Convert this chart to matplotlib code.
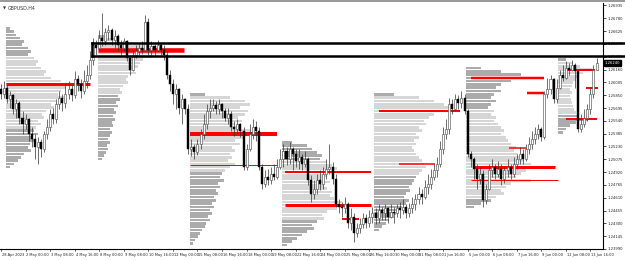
import numpy as np
import matplotlib
matplotlib.use("Agg")
import matplotlib.pyplot as plt
from matplotlib.patches import Rectangle
from matplotlib.transforms import blended_transform_factory

symbol = "GBPUSD,H4"

# H4 candles, bar 0 = 28 Apr 2023 16:00
first_open = 1.2592
closes = [
    1.2586, 1.2594, 1.2580, 1.2585, 1.2568, 1.2575, 1.2558, 1.2550, 1.2556, 1.2538,
    1.2532, 1.2522, 1.2528, 1.2520, 1.2538, 1.2546, 1.2562, 1.2556, 1.2574, 1.2582,
    1.2575, 1.2586, 1.2592, 1.2585, 1.2604, 1.2598, 1.2590, 1.2602, 1.2610, 1.2628,
    1.2646, 1.2642, 1.2654, 1.2650, 1.2662, 1.2664, 1.2652, 1.2657, 1.2646, 1.2642,
    1.2650, 1.2630, 1.2616, 1.2634, 1.2638, 1.2642, 1.2640, 1.2674, 1.2640, 1.2645,
    1.2640, 1.2646, 1.2640, 1.2634, 1.2610, 1.2598, 1.2586, 1.2592, 1.2570, 1.2580,
    1.2568, 1.2520, 1.2522, 1.2516, 1.2526, 1.2538, 1.2550, 1.2566, 1.2570, 1.2573,
    1.2568, 1.2574, 1.2566, 1.2558, 1.2562, 1.2546, 1.2544, 1.2550, 1.2542, 1.2498,
    1.2520, 1.2538, 1.2546, 1.2542, 1.2498, 1.2478, 1.2486, 1.2482, 1.2490, 1.2486,
    1.2498, 1.2508, 1.2518, 1.2508, 1.2520, 1.2514, 1.2506, 1.2510, 1.2502, 1.2508,
    1.2482, 1.2466, 1.2472, 1.2482, 1.2478, 1.2490, 1.2496, 1.2498, 1.2484, 1.2454,
    1.2450, 1.2448, 1.2454, 1.2430, 1.2438, 1.2418, 1.2424, 1.2429, 1.2436, 1.2431,
    1.2438, 1.2442, 1.2436, 1.2446, 1.2442, 1.2448, 1.2438, 1.2444, 1.2442, 1.2448,
    1.2446, 1.2450, 1.2443, 1.2448, 1.2454, 1.2460, 1.2466, 1.2462, 1.2474, 1.2478,
    1.2486, 1.2494, 1.2502, 1.2520, 1.2538, 1.2544, 1.2574, 1.2568, 1.2580, 1.2575,
    1.2582, 1.2566, 1.2514, 1.2508, 1.2496, 1.2484, 1.2490, 1.2458, 1.2472, 1.2494,
    1.2498, 1.2490, 1.2496, 1.2484, 1.2494, 1.2498, 1.2490, 1.2502, 1.2508, 1.2514,
    1.2508, 1.2520, 1.2526, 1.2532, 1.2538, 1.2544, 1.2534, 1.2586, 1.2592, 1.2604,
    1.2580, 1.2594, 1.2610, 1.2606, 1.2618, 1.2616, 1.2622, 1.2614, 1.2544, 1.2550,
    1.2558, 1.2568, 1.2586, 1.2616, 1.2624,
]
highs = [
    1.2598, 1.2602, 1.2597, 1.2590, 1.2587, 1.2580, 1.2578, 1.2566, 1.2562, 1.2558,
    1.2546, 1.2538, 1.2534, 1.2532, 1.2542, 1.2556, 1.2568, 1.2570, 1.2580, 1.2590,
    1.2586, 1.2598, 1.2602, 1.2597, 1.2614, 1.2610, 1.2604, 1.2616, 1.2622, 1.2638,
    1.2654, 1.2652, 1.2664, 1.2684, 1.2666, 1.2670, 1.2666, 1.2664, 1.2659, 1.2652,
    1.2654, 1.2652, 1.2634, 1.2640, 1.2646, 1.2647, 1.2650, 1.2682, 1.2678, 1.2650,
    1.2647, 1.2652, 1.2648, 1.2646, 1.2638, 1.2616, 1.2604, 1.2598, 1.2594, 1.2586,
    1.2582, 1.2574, 1.2532, 1.2526, 1.2532, 1.2544, 1.2562, 1.2574, 1.2580, 1.2580,
    1.2578, 1.2580, 1.2575, 1.2570, 1.2570, 1.2566, 1.2554, 1.2556, 1.2551, 1.2546,
    1.2526, 1.2550, 1.2556, 1.2554, 1.2546, 1.2502, 1.2494, 1.2496, 1.2498, 1.2502,
    1.2508, 1.2520, 1.2526, 1.2522, 1.2528, 1.2522, 1.2520, 1.2520, 1.2514, 1.2518,
    1.2510, 1.2489, 1.2482, 1.2490, 1.2494, 1.2498, 1.2508, 1.2526, 1.2504, 1.2490,
    1.2460, 1.2456, 1.2462, 1.2456, 1.2448, 1.2442, 1.2430, 1.2436, 1.2442, 1.2441,
    1.2446, 1.2450, 1.2448, 1.2454, 1.2450, 1.2454, 1.2450, 1.2454, 1.2450, 1.2454,
    1.2456, 1.2460, 1.2454, 1.2455, 1.2462, 1.2466, 1.2474, 1.2472, 1.2482, 1.2490,
    1.2496, 1.2502, 1.2510, 1.2530, 1.2546, 1.2556, 1.2582, 1.2580, 1.2586, 1.2585,
    1.2590, 1.2586, 1.2568, 1.2518, 1.2510, 1.2502, 1.2498, 1.2494, 1.2478, 1.2502,
    1.2508, 1.2502, 1.2506, 1.2502, 1.2498, 1.2508, 1.2502, 1.2510, 1.2514, 1.2522,
    1.2520, 1.2526, 1.2534, 1.2542, 1.2546, 1.2550, 1.2546, 1.2590, 1.2606, 1.2610,
    1.2606, 1.2604, 1.2616, 1.2622, 1.2626, 1.2624, 1.2628, 1.2624, 1.2616, 1.2562,
    1.2568, 1.2574, 1.2594, 1.2622, 1.2630,
]
lows = [
    1.2580, 1.2582, 1.2575, 1.2570, 1.2562, 1.2558, 1.2550, 1.2538, 1.2544, 1.2530,
    1.2522, 1.2508, 1.2502, 1.2510, 1.2516, 1.2532, 1.2542, 1.2550, 1.2551, 1.2568,
    1.2566, 1.2570, 1.2580, 1.2578, 1.2582, 1.2590, 1.2582, 1.2586, 1.2594, 1.2604,
    1.2622, 1.2634, 1.2640, 1.2645, 1.2646, 1.2652, 1.2646, 1.2642, 1.2638, 1.2634,
    1.2638, 1.2626, 1.2610, 1.2614, 1.2630, 1.2634, 1.2635, 1.2638, 1.2634, 1.2634,
    1.2633, 1.2638, 1.2634, 1.2628, 1.2604, 1.2590, 1.2574, 1.2568, 1.2562, 1.2550,
    1.2562, 1.2514, 1.2512, 1.2508, 1.2513, 1.2520, 1.2532, 1.2544, 1.2558, 1.2566,
    1.2562, 1.2562, 1.2558, 1.2554, 1.2550, 1.2542, 1.2536, 1.2538, 1.2534, 1.2494,
    1.2494, 1.2518, 1.2532, 1.2530, 1.2494, 1.2472, 1.2474, 1.2477, 1.2478, 1.2482,
    1.2484, 1.2496, 1.2498, 1.2501, 1.2502, 1.2494, 1.2498, 1.2496, 1.2494, 1.2498,
    1.2477, 1.2456, 1.2460, 1.2466, 1.2470, 1.2472, 1.2484, 1.2490, 1.2478, 1.2450,
    1.2442, 1.2438, 1.2442, 1.2424, 1.2422, 1.2408, 1.2414, 1.2418, 1.2424, 1.2424,
    1.2426, 1.2430, 1.2429, 1.2430, 1.2434, 1.2434, 1.2431, 1.2436, 1.2430, 1.2438,
    1.2436, 1.2441, 1.2436, 1.2438, 1.2443, 1.2446, 1.2454, 1.2454, 1.2460, 1.2466,
    1.2472, 1.2482, 1.2486, 1.2498, 1.2514, 1.2532, 1.2538, 1.2562, 1.2566, 1.2568,
    1.2570, 1.2562, 1.2510, 1.2498, 1.2484, 1.2472, 1.2478, 1.2450, 1.2454, 1.2470,
    1.2486, 1.2484, 1.2486, 1.2477, 1.2479, 1.2486, 1.2484, 1.2486, 1.2496, 1.2502,
    1.2502, 1.2506, 1.2514, 1.2520, 1.2526, 1.2532, 1.2530, 1.2532, 1.2582, 1.2586,
    1.2575, 1.2576, 1.2592, 1.2602, 1.2604, 1.2609, 1.2614, 1.2594, 1.2540, 1.2540,
    1.2546, 1.2554, 1.2562, 1.2582, 1.2616,
]

time_labels = [
    "28 Apr 2023", "2 May 00:00", "3 May 08:00", "4 May 16:00", "8 May 00:00",
    "9 May 08:00", "10 May 16:00", "12 May 00:00", "15 May 08:00", "16 May 16:00",
    "18 May 00:00", "19 May 08:00", "22 May 16:00", "24 May 00:00", "25 May 08:00",
    "26 May 16:00", "30 May 00:00", "31 May 08:00", "1 Jun 16:00", "5 Jun 00:00",
    "6 Jun 08:00", "7 Jun 16:00", "9 Jun 00:00", "12 Jun 08:00", "13 Jun 16:00",
]
price_labels = [
    1.26935, 1.26780, 1.26625, 1.26470, 1.26315, 1.26160, 1.26005, 1.25850,
    1.25695, 1.25540, 1.25385, 1.25230, 1.25075, 1.24920, 1.24765, 1.24610,
    1.24455, 1.24300, 1.24145, 1.23990,
]

# weekly volume profiles: first bar of week, top price level, volume per level (top -> down)
week_start = [2, 32, 62, 92, 122, 152, 182]
profile_top = [1.2666, 1.2656, 1.2586, 1.2528, 1.2586, 1.2618, 1.2628]
level_step = 0.0004
vol_w1 = [4, 8, 10, 14, 18, 16, 22, 25, 22, 28, 32, 30, 35, 40, 38, 45, 55, 83, 60, 55, 52, 58,
          50, 45, 48, 40, 36, 38, 32, 35, 30, 28, 32, 26, 30, 24, 22, 25, 18, 15, 12, 8, 4]
vol_w2 = [8, 20, 35, 50, 85, 65, 55, 45, 42, 40, 35, 38, 30, 28, 30, 25, 22, 24, 20, 22, 18,
          20, 16, 18, 15, 17, 14, 15, 12, 14, 12, 10, 12, 9, 10, 8, 6, 4]
vol_w3 = [15, 40, 55, 60, 50, 58, 55, 48, 52, 45, 50, 60, 85, 55, 45, 50, 42, 45, 40, 42, 38,
          45, 40, 35, 32, 30, 34, 28, 30, 26, 28, 24, 26, 22, 24, 20, 22, 18, 20, 16, 15, 12,
          10, 8, 5, 3]
vol_w4 = [10, 25, 30, 35, 40, 38, 45, 50, 55, 70, 45, 40, 48, 42, 45, 50, 48, 52, 60, 85, 55,
          45, 40, 42, 35, 30, 32, 25, 20, 15, 10, 5]
vol_w5 = [20, 45, 60, 70, 75, 80, 60, 55, 50, 52, 45, 48, 42, 45, 40, 42, 38, 40, 42, 45, 48,
          50, 52, 48, 45, 42, 40, 38, 35, 36, 32, 30, 35, 32, 28, 25, 22, 20, 15, 12, 8, 5]
vol_w6 = [15, 35, 55, 70, 45, 35, 30, 35, 28, 25, 30, 25, 22, 28, 25, 30, 28, 32, 35, 38, 35,
          40, 42, 45, 50, 48, 52, 55, 58, 65, 82, 60, 55, 50, 65, 45, 40, 35, 38, 30, 25, 15, 8]
vol_w7 = [8, 15, 22, 34, 25, 20, 18, 15, 14, 12, 14, 12, 13, 14, 15, 16, 18, 20, 30, 18, 12, 8, 5]
profiles = [vol_w1, vol_w2, vol_w3, vol_w4, vol_w5, vol_w6, vol_w7]

# red POC lines: price, from bar, to bar, weight
poc_price = [1.2598, 1.2640, 1.2538, 1.2500, 1.2492, 1.2452, 1.2435, 1.2566, 1.2502,
             1.2606, 1.2588, 1.2521, 1.2498, 1.2482, 1.2616, 1.2594, 1.2556]
poc_from = [2, 32, 62, 62, 93, 93, 111.5, 123.5, 130, 153.5, 172, 166, 154.5, 153.5, 184.5, 191, 184.5]
poc_to = [29, 59.5, 90, 90, 120.5, 120.5, 116.5, 149.5, 141.5, 177, 177, 171, 180.5, 181.5, 193.5, 194.5, 194]
poc_weight = [3, 4.5, 4, 1, 2, 3, 2, 2, 1.5, 2.5, 2.5, 1.5, 3, 1, 2, 2, 2]

box_from = 29.6
box_top = 1.2648
box_bottom = 1.2633


def value_area(vols, share=0.7):
    vols = np.asarray(vols, float)
    poc = int(np.argmax(vols))
    lo = hi = poc
    total = vols[poc]
    while total < share * vols.sum():
        up = vols[lo - 1] if lo > 0 else -1
        dn = vols[hi + 1] if hi < len(vols) - 1 else -1
        if up >= dn:
            lo -= 1
            total += up
        else:
            hi += 1
            total += dn
    return lo, hi


fig = plt.figure(figsize=(6.25, 2.6), dpi=100)
ax = fig.add_axes([0, 11 / 260, 603 / 625, 246 / 260])
ax.set_xlim(-0.33, 196.1)
ax.set_ylim(1.2399, 1.26965)

# volume profiles
vol_scale = 1 / 3.07
for start, top, vols in zip(week_start, profile_top, profiles):
    levels = top - level_step * np.arange(len(vols))
    lo, hi = value_area(vols)
    colors = ['#d6d6d6' if lo <= k <= hi else '#ababab' for k in range(len(vols))]
    ax.barh(levels, np.array(vols) * vol_scale, height=level_step * 0.8, left=start - 0.5,
            color=colors, linewidth=0, zorder=1)

# red lines
for p, a, b, w in zip(poc_price, poc_from, poc_to, poc_weight):
    ax.plot([a - 0.5, b], [p, p], color='#ff0000', lw=w * 0.72, solid_capstyle='butt', zorder=2)

# candles
opens = [first_open] + closes[:-1]
for i, (o, c, h, l) in enumerate(zip(opens, closes, highs, lows)):
    h = max(h, o, c)
    l = min(l, o, c)
    ax.vlines(i, l, h, color='#333333', lw=0.5, zorder=3)
    body = max(abs(c - o), 0.00004)
    if c >= o:
        ax.add_patch(Rectangle((i - 0.33, o), 0.66, body, facecolor='white',
                               edgecolor='#555555', lw=0.45, zorder=4))
    else:
        ax.add_patch(Rectangle((i - 0.33, c), 0.66, body, facecolor='black',
                               edgecolor='black', lw=0.3, zorder=4))

# black box, runs off to the right edge
for y in (box_top, box_bottom):
    ax.plot([box_from, 240], [y, y], color='black', lw=1.8, clip_on=False, zorder=6)
ax.plot([box_from, box_from], [box_bottom, box_top], color='black', lw=1.8, zorder=6)

# axes styling
for s in ('left', 'top'):
    ax.spines[s].set_visible(False)
ax.spines['right'].set_linewidth(0.8)
ax.spines['bottom'].set_linewidth(0.8)
ax.yaxis.tick_right()
ax.set_yticks(price_labels)
ax.set_yticklabels([f"{v:.5f}" for v in price_labels], fontsize=2.7, color='#222222')
ax.tick_params(axis='y', length=2, width=0.5, pad=1.5)
ax.set_xticks([])

trans = blended_transform_factory(ax.transData, ax.transAxes)
for k, lab in enumerate(time_labels):
    xb = k * 8
    ax.plot([xb, xb], [0, -0.01], color='black', lw=0.4, transform=trans, clip_on=False)
    ax.text(xb + 0.3, -0.015, lab, transform=trans, fontsize=2.6, ha='left', va='top',
            color='#222222')

# current price tag
last = closes[-1]
ax.text(1.003, last, f"{last:.5f}", transform=blended_transform_factory(ax.transAxes, ax.transData),
        fontsize=2.7, color='white', va='center', ha='left',
        bbox=dict(boxstyle='square,pad=0.3', facecolor='black', edgecolor='black'))

# title and window border
fig.text(3 / 625, 1 - 8 / 260, "\u25bc", fontsize=2.8, va='center', ha='left', color='#333333')
fig.text(8 / 625, 1 - 8 / 260, symbol, fontsize=3.4, va='center', ha='left', color='#333333')
fig.patches.append(Rectangle((0, 1 - 2 / 260), 1, 2 / 260, transform=fig.transFigure,
                             facecolor='#9a9a9a', edgecolor='none'))

fig.savefig("out.png", dpi=100)
